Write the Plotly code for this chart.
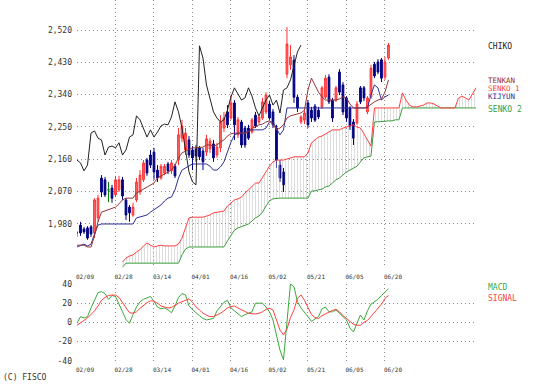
import plotly.graph_objects as go

# ---------------- data ----------------
open_ = [1955, 1977, 1966, 1969, 1972, 1955, 1997, 2108, 2103, 2075,
         2080, 2061, 2075, 2103, 2047, 2027, 2005, 2047, 2069, 2103,
         2158, 2172, 2180, 2130, 2108, 2122, 2147, 2128, 2141, 2158,
         2219, 2186, 2214, 2186, 2189, 2192, 2183, 2180, 2189, 2203,
         2172, 2192, 2247, 2292, 2275, 2317, 2228, 2264, 2247, 2247,
         2236, 2283, 2264, 2275, 2292, 2314, 2292, 2247, 2144, 2125,
         2397, 2423, 2436, 2333, 2264, 2269, 2317, 2297, 2308, 2297,
         2306, 2333, 2389, 2325, 2325, 2403, 2367, 2331, 2303, 2264,
         2261, 2359, 2359, 2292, 2333, 2425, 2431, 2437, 2389, 2442]
high = [1961, 1986, 1972, 1974, 1977, 2052, 2061, 2116, 2111, 2097,
        2089, 2114, 2114, 2111, 2052, 2033, 2039, 2108, 2130, 2158,
        2164, 2186, 2192, 2144, 2147, 2147, 2153, 2158, 2147, 2247,
        2270, 2247, 2225, 2197, 2200, 2197, 2192, 2228, 2219, 2214,
        2206, 2283, 2292, 2311, 2339, 2325, 2278, 2270, 2253, 2256,
        2275, 2292, 2283, 2331, 2347, 2322, 2300, 2256, 2158, 2136,
        2528, 2478, 2450, 2339, 2283, 2297, 2325, 2306, 2314, 2306,
        2364, 2395, 2397, 2331, 2364, 2411, 2375, 2336, 2308, 2272,
        2322, 2364, 2364, 2336, 2423, 2431, 2439, 2442, 2445, 2484]
low = [1944, 1947, 1952, 1936, 1944, 1941, 1986, 2055, 2055, 2041,
       2039, 2055, 2069, 2047, 1991, 1986, 2000, 2041, 2061, 2097,
       2114, 2136, 2103, 2097, 2103, 2116, 2119, 2119, 2108, 2144,
       2208, 2172, 2164, 2130, 2153, 2158, 2130, 2169, 2178, 2153,
       2164, 2180, 2236, 2247, 2270, 2214, 2219, 2192, 2192, 2214,
       2231, 2247, 2258, 2270, 2286, 2270, 2247, 2136, 2097, 2069,
       2386, 2409, 2317, 2292, 2258, 2258, 2247, 2264, 2264, 2272,
       2300, 2328, 2314, 2264, 2320, 2339, 2283, 2264, 2242, 2200,
       2256, 2314, 2322, 2286, 2328, 2386, 2397, 2375, 2381, 2437]
close = [1955, 1955, 1958, 1941, 1952, 2047, 2052, 2069, 2061, 2075,
         2052, 2103, 2103, 2058, 2005, 2011, 2027, 2097, 2116, 2150,
         2122, 2144, 2125, 2108, 2141, 2141, 2128, 2150, 2114, 2228,
         2253, 2233, 2172, 2164, 2169, 2167, 2153, 2217, 2211, 2164,
         2194, 2264, 2275, 2256, 2317, 2256, 2270, 2200, 2200, 2219,
         2270, 2253, 2278, 2320, 2339, 2275, 2256, 2158, 2108, 2089,
         2481, 2445, 2333, 2303, 2278, 2289, 2256, 2275, 2269, 2278,
         2359, 2386, 2320, 2275, 2359, 2347, 2292, 2275, 2253, 2219,
         2314, 2320, 2331, 2331, 2414, 2392, 2403, 2386, 2431, 2478]

chiko = [2158, 2150, 2128, 2144, 2233, 2239, 2219, 2214, 2172, 2194,
         2197, 2192, 2206, 2172, 2186, 2222, 2228, 2281, 2270, 2244,
         2222, 2242, 2222, 2236, 2253, 2258, 2256, 2278, 2320, 2292,
         2247, 2186, 2125, 2097, 2089, 2476, 2442, 2367, 2325, 2292,
         2275, 2264, 2270, 2297, 2334, 2359, 2342, 2325, 2331, 2359,
         2336, 2303, 2281, 2303, 2325, 2339, 2311, 2325, 2289, 2353,
         2359, 2381, 2423, 2459, 2478]

tenkan = [1921, 1921, 1921, 1916, 1916, 1947, 1986, 2013, 2016, 2019,
          2022, 2027, 2036, 2047, 2052, 2052, 2052, 2066, 2072, 2077,
          2083, 2089, 2094, 2108, 2114, 2119, 2125, 2130, 2144, 2164,
          2178, 2183, 2189, 2192, 2192, 2192, 2194, 2200, 2200, 2197,
          2200, 2208, 2214, 2225, 2231, 2233, 2233, 2233, 2233, 2236,
          2247, 2250, 2256, 2258, 2264, 2267, 2258, 2242, 2247, 2256,
          2275, 2281, 2283, 2286, 2289, 2297, 2353, 2386, 2364, 2347,
          2334, 2325, 2325, 2325, 2325, 2328, 2334, 2331, 2314, 2303,
          2303, 2303, 2303, 2306, 2314, 2320, 2325, 2328, 2347, 2381]

kijun = [1916, 1919, 1924, 1919, 1924, 1952, 1977, 1980, 1980, 1980,
         1980, 1980, 1980, 1980, 1980, 1980, 1980, 1997, 2000, 2002,
         2005, 2013, 2019, 2025, 2033, 2044, 2052, 2055, 2075, 2108,
         2130, 2136, 2141, 2147, 2147, 2147, 2147, 2147, 2141, 2130,
         2130, 2139, 2153, 2180, 2208, 2228, 2233, 2233, 2233, 2239,
         2242, 2242, 2242, 2242, 2247, 2264, 2264, 2247, 2228, 2242,
         2303, 2303, 2303, 2303, 2303, 2303, 2303, 2303, 2303, 2303,
         2303, 2303, 2303, 2303, 2303, 2303, 2303, 2303, 2303, 2303,
         2303, 2303, 2303, 2303, 2339, 2367, 2359, 2325, 2334, 2339]

# leading spans, bars 13 .. 114
senko1 = [1874, 1885, 1891, 1894, 1902, 1908, 1919, 1927, 1921,
          1916, 1919, 1921, 1919, 1919, 1921, 1919, 1924, 1941, 1969,
          1997, 1999, 1999, 1999, 1999, 2002, 2005, 2011, 2013, 2013,
          2016, 2030, 2038, 2047, 2050, 2055, 2066, 2075, 2086, 2094,
          2094, 2108, 2125, 2141, 2153, 2158, 2158, 2158, 2161, 2164,
          2167, 2167, 2167, 2167, 2178, 2206, 2214, 2222, 2225, 2231,
          2236, 2242, 2242, 2242, 2247, 2250, 2253, 2256, 2250, 2247,
          2231, 2214, 2197, 2303, 2303, 2303, 2303, 2303, 2303, 2303,
          2303, 2345, 2325, 2311, 2306, 2306, 2308, 2311, 2317, 2317,
          2314, 2308, 2303, 2303, 2303, 2303, 2303, 2330, 2336, 2331,
          2325, 2342, 2359]
senko2 = [1860, 1871, 1871, 1871, 1871, 1871, 1871, 1871, 1871,
          1871, 1871, 1871, 1871, 1871, 1871, 1871, 1871, 1894, 1910,
          1916, 1916, 1916, 1916, 1916, 1916, 1916, 1916, 1916, 1916,
          1916, 1933, 1947, 1963, 1969, 1972, 1977, 1980, 1988, 1997,
          2002, 2013, 2030, 2044, 2050, 2052, 2052, 2052, 2052, 2052,
          2052, 2052, 2052, 2052, 2052, 2072, 2072, 2075, 2077, 2083,
          2086, 2094, 2103, 2108, 2116, 2125, 2130, 2136, 2141, 2153,
          2164, 2167, 2169, 2264, 2264, 2266, 2266, 2267, 2267, 2270,
          2270, 2303, 2303, 2303, 2303, 2303, 2303, 2303, 2303, 2303,
          2303, 2303, 2303, 2303, 2303, 2303, 2303, 2303, 2303, 2303,
          2303, 2303, 2303]

macd = [-1, 6, 4.5, 6, 15, 24, 31, 32, 30, 24,
        28, 27, 18, 11, 3, -1, 8, 16, 21.5, 24,
        25.5, 27, 22, 16, 14, 15, 13, 10, 17, 26,
        30, 28.5, 17, 13, 10, 7, 4, 2.5, 3, 4,
        12, 17, 21, 23, 15, 12, 9, 6, 8, 9.5,
        11, 20, 20, 20, 16, 11, 2.5, -15, -29, -39,
        4, 40, 37, 21.5, 15, 11, 6, 1, 4, 6,
        14, 16, 11, 11, 13, 9.5, 6, 2.5, -6, -10,
        -1, 7.7, 2.5, 12, 19, 21.5, 24, 28, 31, 35]
signal = [-3, 0, 2, 4.5, 8, 12, 17, 23, 26, 28,
          28.5, 28.5, 26, 21, 15, 10, 9.5, 11, 14.6, 18,
          20.5, 22.5, 22, 20, 17, 16, 15, 15.5, 18, 20,
          21.5, 23, 24.5, 21, 16, 13, 9.5, 7.5, 6, 6,
          7.5, 9.5, 12, 15, 16.5, 17, 15, 13, 11, 9.5,
          9, 8.7, 9.5, 11, 13.5, 14.6, 13, 2.5, -8, -13,
          -7, 5, 13, 25, 28.5, 23, 16, 8, 5, 4,
          7, 9, 11, 12.5, 13.6, 11, 7, 4, 0.7, -2,
          -3, -3, 0, 2, 6, 10, 15, 19, 25, 28]

date_ticks = [0, 11, 22, 33, 44, 55, 66, 77, 88]
date_labels = ["02/09", "02/28", "03/14", "04/01", "04/16", "05/02", "05/21", "06/05", "06/20"]
price_ticks = [1980, 2070, 2160, 2250, 2340, 2430, 2520]
macd_ticks = [-40, -20, 0, 20, 40]
macd_labels = ["-40", "-20", "0", "20", "40"]

# ---------------- figure ----------------
bars = list(range(len(close)))
chiko_x = list(range(len(chiko)))
senko_x = list(range(13, 13 + len(senko1)))

FONT = "DejaVu Sans Mono"
GRID = "#8a8a8a"
DOTS = "1px,3px"

fig = go.Figure()

fig.add_trace(go.Scatter(x=senko_x, y=senko2, mode="lines",
                         line=dict(color="#3c9c3c", width=1), hoverinfo="skip"))
fig.add_trace(go.Scatter(x=senko_x, y=senko1, mode="lines",
                         line=dict(color="#ff4040", width=1), hoverinfo="skip",
                         fill="tonexty", fillcolor="rgba(255,255,255,0)",
                         fillpattern=dict(shape="|", fgcolor="#b4b4b4",
                                          bgcolor="rgba(255,255,255,0)",
                                          size=3, solidity=0.3)))
fig.add_trace(go.Scatter(x=bars, y=kijun, mode="lines",
                         line=dict(color="#2e2e9a", width=1), hoverinfo="skip"))
fig.add_trace(go.Scatter(x=bars, y=tenkan, mode="lines",
                         line=dict(color="#993333", width=1), hoverinfo="skip"))
fig.add_trace(go.Scatter(x=chiko_x, y=chiko, mode="lines",
                         line=dict(color="#222222", width=1), hoverinfo="skip"))


def subset(cond):
    idx = [i for i in bars if cond(open_[i], close[i])]
    return dict(x=idx, open=[open_[i] for i in idx], high=[high[i] for i in idx],
                low=[low[i] for i in idx], close=[close[i] for i in idx])


for cond, body, edge in [
    (lambda o, c: c > o, "#ff6a6a", "#ff3030"),
    (lambda o, c: c < o, "#000080", "#000080"),
    (lambda o, c: c == o, "#008000", "#008000"),
]:
    d = subset(cond)
    fig.add_trace(go.Candlestick(
        **d, whiskerwidth=0,
        increasing=dict(fillcolor=body, line=dict(color=edge, width=1)),
        decreasing=dict(fillcolor=body, line=dict(color=edge, width=1)),
        hoverinfo="skip"))

fig.add_trace(go.Scatter(x=bars, y=macd, mode="lines", xaxis="x2", yaxis="y2",
                         line=dict(color="#3aa83a", width=1), hoverinfo="skip"))
fig.add_trace(go.Scatter(x=bars, y=signal, mode="lines", xaxis="x2", yaxis="y2",
                         line=dict(color="#ff4040", width=1), hoverinfo="skip"))

W, H = 540, 389
xdom = [77 / W, 477 / W]
xrange = [0, 114.3]

common_x = dict(domain=xdom, range=xrange, tickmode="array", tickvals=date_ticks,
                ticktext=date_labels, showgrid=True, gridcolor=GRID, griddash=DOTS,
                gridwidth=1, zeroline=False, showline=False, ticks="",
                tickfont=dict(family=FONT, size=6, color="#333333"),
                ticklabelshift=8, ticklabelstandoff=4,
                rangeslider=dict(visible=False), fixedrange=True, automargin=False)

common_y = dict(showgrid=True, gridcolor=GRID, griddash=DOTS, zeroline=False,
                showline=False, ticks="", tickmode="array",
                tickfont=dict(family=FONT, size=8, color="#333333"),
                ticklabelstandoff=4, fixedrange=True, automargin=False)

fig.update_layout(
    width=W, height=H,
    margin=dict(l=0, r=0, t=0, b=0, pad=0, autoexpand=False),
    paper_bgcolor="white", plot_bgcolor="white",
    showlegend=False,
    xaxis=dict(**common_x, anchor="y"),
    yaxis=dict(**common_y, domain=[1 - 268 / H, 1], range=[1857.5, 2603.5],
               tickvals=price_ticks, tickformat=",d"),
    xaxis2=dict(**common_x, anchor="y2"),
    yaxis2=dict(**common_y, domain=[1 - 361 / H, 1 - 283.7 / H], range=[-40.3, 40.3],
                tickvals=macd_ticks, ticktext=macd_labels),
)

legend_items = [
    ("CHIKO", "#222222", 47, 8),
    ("TENKAN", "#993333", 80.5, 7.5),
    ("SENKO 1", "#ff4040", 88.5, 7.5),
    ("KIJYUN", "#2e2e9a", 96.5, 7.5),
    ("SENKO 2", "#3c9c3c", 109.5, 8),
    ("MACD", "#3aa83a", 287, 8),
    ("SIGNAL", "#ff4040", 298, 8),
]
for text, color, ypix, fsize in legend_items:
    fig.add_annotation(x=486.5 / W, y=1 - ypix / H, xref="paper", yref="paper",
                       text=text, showarrow=False, xanchor="left", yanchor="middle",
                       borderpad=0,
                       font=dict(family=FONT, size=fsize, color=color))

fig.add_annotation(x=1 / W, y=1 - 377 / H, xref="paper", yref="paper",
                   text="(C) FISCO", showarrow=False, xanchor="left", yanchor="middle",
                   font=dict(family=FONT, size=8, color="#333333"))

fig.write_html("out.html", config={"displayModeBar": False},
               post_script="document.body.style.margin='0';document.body.style.padding='0';")
